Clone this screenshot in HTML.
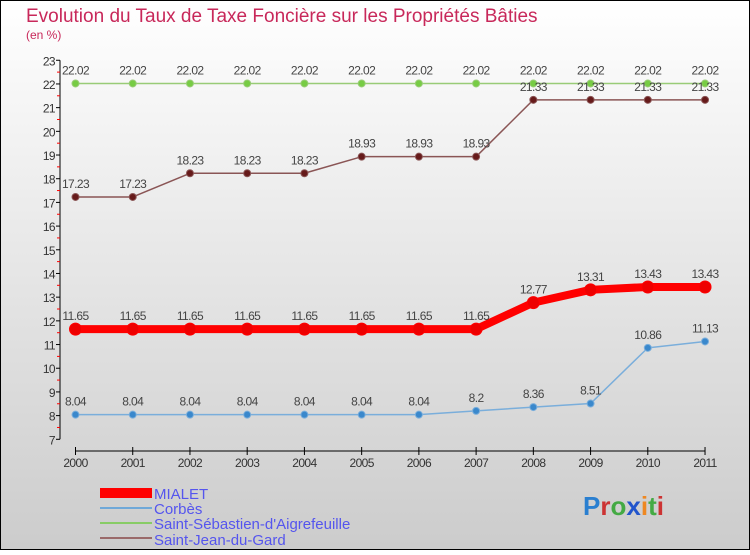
<!DOCTYPE html>
<html><head><meta charset="utf-8"><style>
body{margin:0;}
#c{width:750px;height:550px;position:relative;font-family:"Liberation Sans",sans-serif;}
</style></head><body>
<div id="c">
<svg width="750" height="550" xmlns="http://www.w3.org/2000/svg" id="svg">
<defs><linearGradient id="bg" x1="0" y1="0" x2="0" y2="1"><stop offset="0" stop-color="#ffffff"/><stop offset="1" stop-color="#cccccc"/></linearGradient></defs>
<rect x="0.5" y="0.5" width="749" height="549" fill="url(#bg)" stroke="#000"/>
<text x="26" y="22" font-size="19" fill="#c8285a">Evolution du Taux de Taxe Foncière sur les Propriétés Bâties</text>
<text x="26" y="39" font-size="12" fill="#c8285a">(en %)</text>
<g id="axes"></g>
<g id="series"></g>
<g>
<rect x="100" y="488" width="52" height="10" fill="#ff0000"/>
<text x="154" y="499" font-size="15" fill="#5555ee">MIALET</text>
<rect x="100" y="507" width="52" height="2" fill="#6fa8d8"/>
<text x="154" y="514" font-size="15" fill="#5555ee">Corbès</text>
<rect x="100" y="522" width="52" height="2" fill="#88cc66"/>
<text x="154" y="529" font-size="15" fill="#5555ee">Saint-Sébastien-d'Aigrefeuille</text>
<rect x="100" y="537" width="52" height="2" fill="#9a6a6a"/>
<text x="154" y="545" font-size="15" fill="#5555ee">Saint-Jean-du-Gard</text>
</g>
<text x="583" y="515" font-size="26" font-weight="bold"><tspan fill="#2a7fd0">P</tspan><tspan fill="#cc3333">r</tspan><tspan fill="#44aa44">o</tspan><tspan fill="#2255cc">x</tspan><tspan fill="#ee8822">i</tspan><tspan fill="#44aa44">t</tspan><tspan fill="#cc3333">i</tspan></text>
</svg>
</div>
<script>
const years=[2000,2001,2002,2003,2004,2005,2006,2007,2008,2009,2010,2011];
const yTicks=[7,8,9,10,11,12,13,14,15,16,17,18,19,20,21,22,23];
const mialet=[11.65,11.65,11.65,11.65,11.65,11.65,11.65,11.65,12.77,13.31,13.43,13.43];
const corbes=[8.04,8.04,8.04,8.04,8.04,8.04,8.04,8.2,8.36,8.51,10.86,11.13];
const saintSebastien=[22.02,22.02,22.02,22.02,22.02,22.02,22.02,22.02,22.02,22.02,22.02,22.02];
const saintJean=[17.23,17.23,18.23,18.23,18.23,18.93,18.93,18.93,21.33,21.33,21.33,21.33];
const NS="http://www.w3.org/2000/svg";
const X=i=>75.5+i*57.23;
const Y=v=>439.3-(v-7)*23.69;
function mk(t,a,p){const e=document.createElementNS(NS,t);for(const k in a)e.setAttribute(k,a[k]);p.appendChild(e);return e;}
const ax=document.getElementById('axes');
const yaxis=mk('line',{x1:60,y1:Y(23),x2:60,y2:Y(7),stroke:'#000','stroke-width':1},ax);


yTicks.forEach(v=>{
  mk('line',{x1:56,x2:60,y1:Y(v),y2:Y(v),stroke:'#000'},ax);
  if(v<23) mk('line',{x1:57,x2:60,y1:Y(v+0.5),y2:Y(v+0.5),stroke:'#ff0000'},ax);
  const t=mk('text',{x:55,y:Y(v)+5,'font-size':12,'text-anchor':'end',fill:'#333','letter-spacing':'-0.6'},ax);
  t.textContent=v;
  
  
});
const xaxis=mk('line',{x1:X(0),y1:451,x2:X(11),y2:451,stroke:'#000'},ax);


years.forEach((y,i)=>{
  mk('line',{x1:X(i),x2:X(i),y1:447,y2:455,stroke:'#000'},ax);
  const t=mk('text',{x:X(i),y:467,'font-size':12,'text-anchor':'middle',fill:'#333','letter-spacing':'-0.6'},ax);
  t.textContent=y;
  
  
});
const sg=document.getElementById('series');
function series(data,name,color,lw,r,dot){
  const g=mk('g',{},sg);
  
  
  mk('polyline',{points:data.map((v,i)=>X(i)+','+Y(v)).join(' '),fill:'none',stroke:color,'stroke-width':lw,'stroke-linejoin':'round'},g);
  data.forEach((v,i)=>{
    const c=mk('circle',{cx:X(i),cy:Y(v),r:r,fill:dot,stroke:color,'stroke-width':1},g);
    
    
    const t=mk('text',{x:X(i),y:Y(v)-9,'font-size':12,'text-anchor':'middle',fill:'#444','letter-spacing':'-0.6'},g);
    t.textContent=String(v).replace(/^(\d+\.\d)0$/,'$1');
    
    
  });
}
series(saintSebastien,'saint-sebastien','#99cc77',1.5,3.5,'#77cc44');
series(saintJean,'saint-jean','#8a5555',1.5,3.5,'#661a1a');
series(corbes,'corbes','#7aaedb',1.5,3.5,'#3a88cc');
series(mialet,'mialet','#ff0000',8,6,'#ee0000');
</script>
</body></html>
